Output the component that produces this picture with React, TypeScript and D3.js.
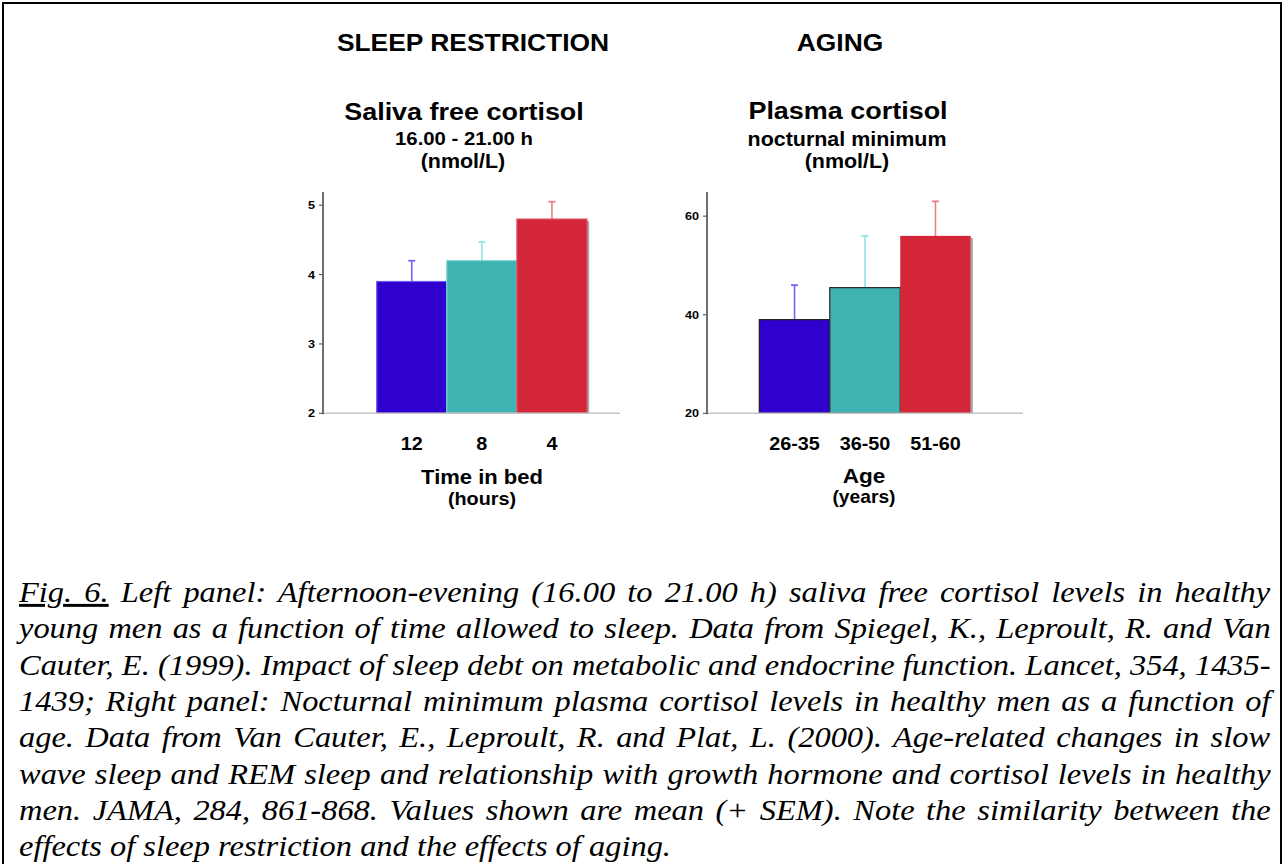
import React from 'react';
import * as d3 from 'd3';

// ---------- data ----------
const leftCategories = ['12', '8', '4'];
const leftValues = [3.9, 4.2, 4.8];
const leftSem = [0.3, 0.27, 0.25];
const leftTicks = [2, 3, 4, 5];

const rightCategories = ['26-35', '36-50', '51-60'];
const rightValues = [39, 45.5, 56];
const rightSem = [7, 10.5, 7];
const rightTicks = [20, 40, 60];

const barFill = ['#3000CF', '#3FB3B2', '#D42639'];
const errColors = ['#7563F2', '#8FE3E3', '#EC7D8B'];
const leftOutline = ['#6A5AEF', '#7CD4D4', '#E0505F'];
const rightOutline = ['#1A1A1A', '#2A2A2A', 'none'];

const captionLines = [
  'Fig. 6. Left panel: Afternoon-evening (16.00 to 21.00 h) saliva free cortisol levels in healthy',
  'young men as a function of time allowed to sleep. Data from Spiegel, K., Leproult, R. and Van',
  'Cauter, E. (1999). Impact of sleep debt on metabolic and endocrine function. Lancet, 354, 1435-',
  '1439; Right panel: Nocturnal minimum plasma cortisol levels in healthy men as a function of',
  'age. Data from Van Cauter, E., Leproult, R. and Plat, L. (2000). Age-related changes in slow',
  'wave sleep and REM sleep and relationship with growth hormone and cortisol levels in healthy',
  'men. JAMA, 284, 861-868. Values shown are mean (+ SEM). Note the similarity between the',
  'effects of sleep restriction and the effects of aging.',
];

const SX = 1.1;
const SANS = '"Liberation Sans", Arial, sans-serif';
const SERIF = '"Liberation Serif", "Times New Roman", serif';

function measure(text: string, font: string): number {
  const c = document.createElement('canvas').getContext('2d');
  if (!c) return text.length * 10;
  c.font = font;
  return c.measureText(text).width;
}

function T(props: { x: number; y: number; size: number; anchor?: string; weight?: string; children: any }) {
  const { x, y, size, anchor = 'middle', weight = 'bold', children } = props;
  return (
    <text
      transform={`translate(${x},${y}) scale(${SX},1)`}
      textAnchor={anchor}
      fontFamily={SANS}
      fontWeight={weight}
      fontSize={size}
      fill="#000"
    >
      {children}
    </text>
  );
}

type PanelProps = {
  cats: string[];
  vals: number[];
  sem: number[];
  ticks: number[];
  yDomain: [number, number];
  axisX: number;
  barRange: [number, number];
  baseEnd: number;
  outline: string[];
  capHalf: number;
};

function Panel(p: PanelProps) {
  const top = 192;
  const bottom = 413.3;
  const y = d3.scaleLinear().domain(p.yDomain).range([bottom, top]);
  const x = d3.scaleBand().domain(p.cats).range(p.barRange).padding(0);
  const bw = x.bandwidth();
  return (
    <g>
      {p.cats.map((c, i) => {
        const bx = x(c) as number;
        const by = y(p.vals[i]);
        const cx = bx + bw / 2;
        const ey = y(p.vals[i] + p.sem[i]);
        return (
          <g key={c}>
            <line x1={cx} x2={cx} y1={by} y2={ey} stroke={errColors[i]} strokeWidth={1.6} />
            <line x1={cx - p.capHalf} x2={cx + p.capHalf} y1={ey} y2={ey} stroke={errColors[i]} strokeWidth={1.8} />
            {i === p.cats.length - 1 && (
              <rect x={bx + bw} y={by + 2} width={2.2} height={bottom - by - 2} fill="#a8a8a8" />
            )}
            <rect
              x={bx}
              y={by}
              width={bw}
              height={bottom - by}
              fill={barFill[i]}
              stroke={p.outline[i]}
              strokeWidth={p.outline[i] === 'none' ? 0 : 1.2}
            />
          </g>
        );
      })}
      <line x1={p.axisX} x2={p.baseEnd} y1={bottom} y2={bottom} stroke="#c6c6c6" strokeWidth={1.5} />
      <line x1={p.axisX} x2={p.axisX} y1={top} y2={bottom + 1} stroke="#606060" strokeWidth={1.8} />
      {p.ticks.map((t) => (
        <g key={t}>
          <line x1={p.axisX - 4} x2={p.axisX} y1={y(t)} y2={y(t)} stroke="#606060" strokeWidth={1.2} />
          <T x={p.axisX - 8} y={y(t) + 4} size={11.5} anchor="end">
            {t}
          </T>
        </g>
      ))}
      {p.cats.map((c) => (
        <T key={c} x={(x(c) as number) + bw / 2} y={450} size={18}>
          {c}
        </T>
      ))}
    </g>
  );
}

function Caption() {
  const size = 29.5;
  const font = `italic ${size}px ${SERIF}`;
  const left = 19;
  const right = 1271;
  const lineH = 36.3;
  const y0 = 602;
  return (
    <g>
      {captionLines.map((line, i) => {
        const last = i === captionLines.length - 1;
        const natural = measure(line, font);
        const spaces = (line.match(/ /g) || []).length;
        const target = (right - left) / SX;
        const ws = last ? 0 : (target - natural) / spaces;
        const content =
          i === 0 ? (
            <>
              <tspan textDecoration="underline">Fig. 6.</tspan>
              {line.slice(7)}
            </>
          ) : (
            line
          );
        return (
          <text
            key={i}
            transform={`translate(${left},${y0 + i * lineH}) scale(${SX},1)`}
            fontFamily={SERIF}
            fontStyle="italic"
            fontSize={size}
            style={{ wordSpacing: `${ws}px`, whiteSpace: 'pre' }}
            fill="#000"
          >
            {content}
          </text>
        );
      })}
    </g>
  );
}

export default function App() {
  return (
    <svg
      width={1284}
      height={864}
      style={{ position: 'absolute', left: 0, top: 0, background: '#fff' }}
    >
      <rect x={0} y={0} width={1284} height={864} fill="#fff" />
      <path d="M3,870 V3 H1281 V870" fill="none" stroke="#000" strokeWidth={2} />

      <T x={473} y={51} size={24}>SLEEP RESTRICTION</T>
      <T x={840} y={51} size={24}>AGING</T>

      <T x={464} y={120} size={24.5}>Saliva free cortisol</T>
      <T x={464} y={145} size={18.5}>16.00 - 21.00 h</T>
      <T x={463} y={168} size={19.5}>(nmol/L)</T>

      <T x={848} y={119} size={24.5}>Plasma cortisol</T>
      <T x={847} y={146} size={19.5}>nocturnal minimum</T>
      <T x={847} y={168} size={19.5}>(nmol/L)</T>

      <Panel
        cats={leftCategories}
        vals={leftValues}
        sem={leftSem}
        ticks={leftTicks}
        yDomain={[2, 5.19]}
        axisX={323}
        barRange={[376.7, 587]}
        baseEnd={620}
        outline={leftOutline}
        capHalf={3.5}
      />
      <Panel
        cats={rightCategories}
        vals={rightValues}
        sem={rightSem}
        ticks={rightTicks}
        yDomain={[20, 64.9]}
        axisX={707}
        barRange={[759.3, 970.7]}
        baseEnd={1023}
        outline={rightOutline}
        capHalf={3.5}
      />

      <T x={482} y={484} size={20}>Time in bed</T>
      <T x={482} y={505} size={18}>(hours)</T>
      <T x={864} y={483} size={20.5}>Age</T>
      <T x={864} y={503} size={17.5}>(years)</T>

      <Caption />
    </svg>
  );
}
